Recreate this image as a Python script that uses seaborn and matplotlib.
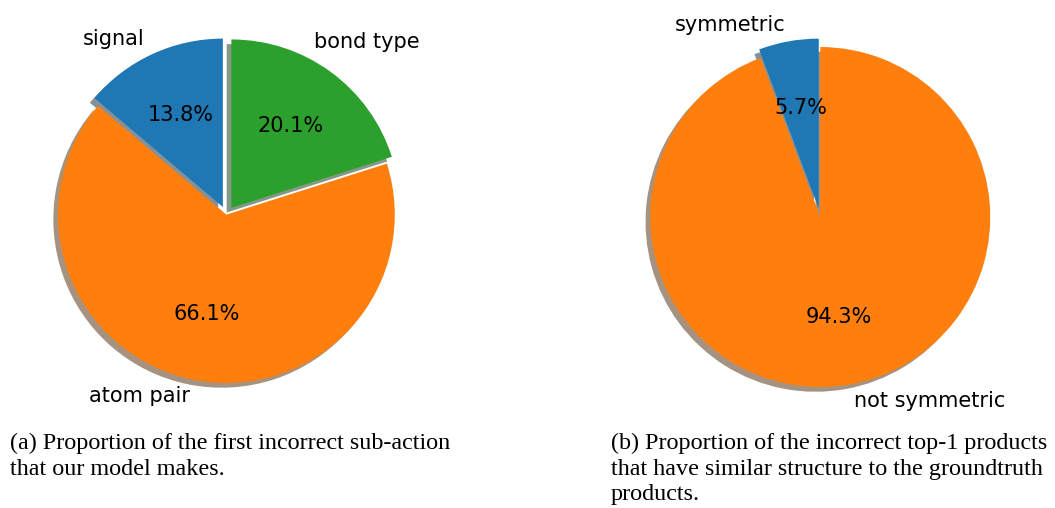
import matplotlib
matplotlib.use("Agg")
import matplotlib.pyplot as plt
import numpy as np
import seaborn as sns

sns.set_style("white")
plt.rcParams["font.family"] = ["DejaVu Sans"]
plt.rcParams["text.color"] = "black"
plt.rcParams["patch.force_edgecolor"] = False

# First incorrect sub-action
action_labels = ["signal", "atom pair", "bond type"]
action_shares = [13.8, 66.1, 20.1]
action_explode = [0.05, 0.0, 0.05]

# Structural similarity of incorrect top-1 products
sym_labels = ["symmetric", "not symmetric"]
sym_shares = [5.7, 94.3]
sym_explode = [0.05, 0.0]

caption_a = "(a) Proportion of the first incorrect sub-action\nthat our model makes."
caption_b = ("(b) Proportion of the incorrect top-1 products\n"
             "that have similar structure to the groundtruth\nproducts.")

palette = sns.color_palette("tab10")

fig = plt.figure(figsize=(10.55, 5.08), dpi=100)
ax1 = fig.add_axes([0.0151, 0.163, 0.399, 0.829])
ax2 = fig.add_axes([0.576, 0.1545, 0.403, 0.8366])

wedge_style = {"linewidth": 0, "edgecolor": "none"}
text_style = {"fontsize": 15, "color": "black"}

_, labels1, _ = ax1.pie(action_shares, labels=action_labels, explode=action_explode,
                        colors=[palette[0], palette[1], palette[2]], autopct="%1.1f%%",
                        shadow=True, startangle=90, wedgeprops=wedge_style,
                        textprops=text_style)
ax2.pie(sym_shares, labels=sym_labels, explode=sym_explode,
        colors=[palette[0], palette[1]], autopct="%1.1f%%",
        shadow=True, startangle=90, wedgeprops=wedge_style, textprops=text_style)

# nudge the "bond type" label further up around the rim
ang = np.deg2rad(63)
labels1[2].set_position((1.15 * np.cos(ang), 1.15 * np.sin(ang)))

for ax in (ax1, ax2):
    ax.set_aspect("equal")

cap_font = dict(family=["Liberation Serif"], fontsize=17.4, va="top", ha="left",
                linespacing=1.27, color="black")
fig.text(10 / 1055, 1 - 433 / 508, caption_a, **cap_font)
fig.text(611 / 1055, 1 - 433 / 508, caption_b, **cap_font)

fig.savefig("out.png", dpi=100)
